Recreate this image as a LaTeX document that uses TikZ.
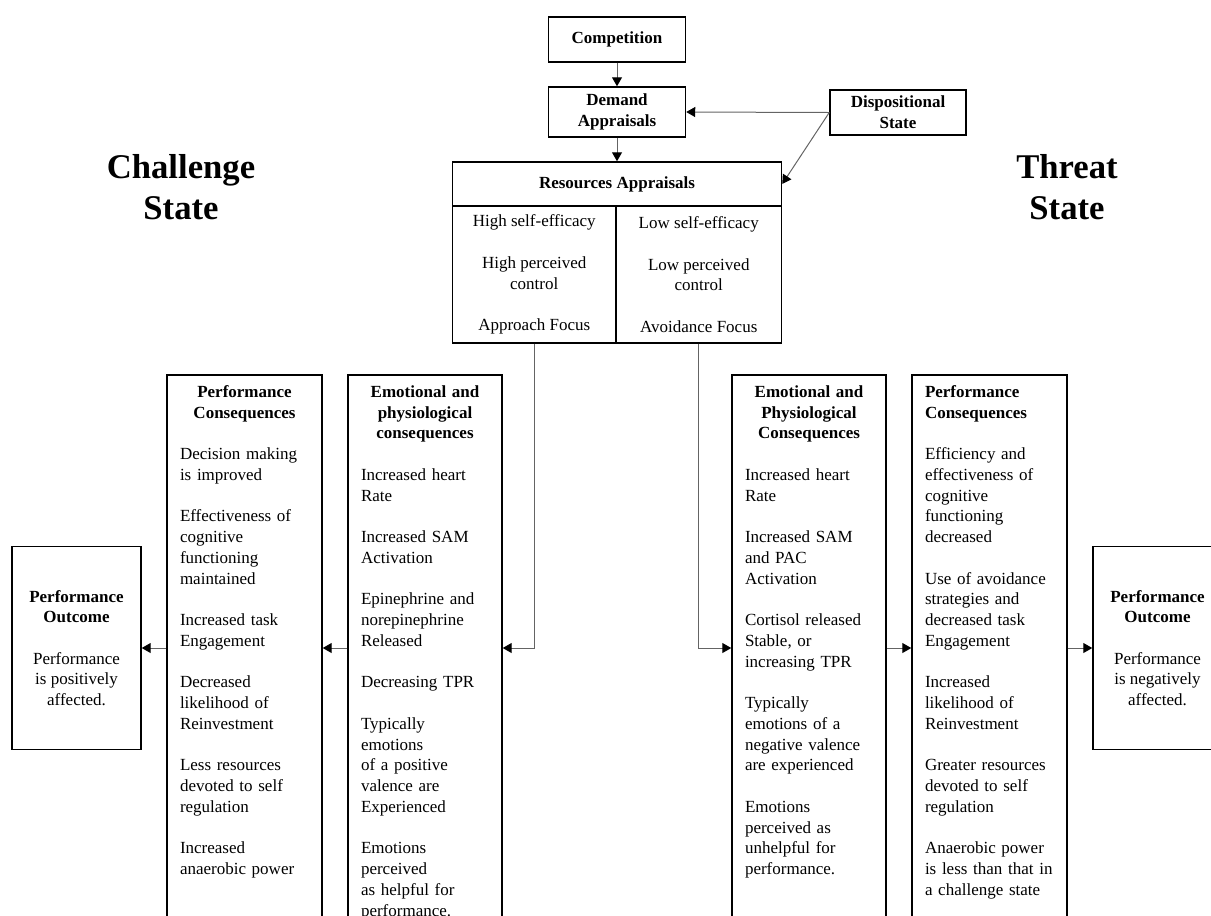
\documentclass[tikz,border=0pt]{standalone}
\usepackage{fontspec}
\setmainfont{Liberation Serif}
\usetikzlibrary{arrows.meta}
\definecolor{boxblack}{RGB}{0,0,0}
\definecolor{linegray}{RGB}{100,100,100}
\newcommand{\bodysize}{\fontsize{12.75}{15.56}\selectfont}
\newcommand{\gapline}{\vspace{\baselineskip}}

\begin{document}
\begin{tikzpicture}[x=0.75pt,y=-0.75pt,
  every node/.style={font=\bodysize},
  box/.style={draw=boxblack,line width=1.1pt,inner sep=0pt},
  coltext/.style={anchor=north,inner xsep=9.75pt,inner ysep=6.25pt,
    execute at begin node=\setlength{\parindent}{0pt}},
  conn/.style={draw=linegray,line width=0.75pt,-{Triangle[length=6.75pt,width=7.5pt,color=black]}},
  title/.style={font=\fontsize{26}{30.75}\selectfont\bfseries,align=center}]
\useasboundingbox (0,0) rectangle (1211,915);
\clip (0,0) rectangle (1211,915);
\node[box,minimum width=102.75pt,minimum height=33.75pt,font=\bodysize\bfseries] (comp) at (617,39.5) {Competition};
\node[box,minimum width=102.75pt,minimum height=37.5pt,align=center,font=\bodysize\bfseries] (dem) at (617,112) {Demand\\Appraisals};
\node[box,minimum width=102pt,minimum height=33.75pt,align=center,font=\bodysize\bfseries] (disp) at (898,112.5) {Dispositional\\State};
\node[box,minimum width=246.75pt,minimum height=33pt,font=\bodysize\bfseries] (reshead) at (617,184) {Resources Appraisals};
\node[box,minimum width=122.6pt,minimum height=102.75pt,align=center] (resleft) at (534.25,274.5) {High self-efficacy\\[\baselineskip]High perceived\\control\\[\baselineskip]Approach Focus};
\node[box,minimum width=124.1pt,minimum height=102.75pt,align=center] (resright) at (698.75,274.5) {Low self-efficacy\\[\baselineskip]Low perceived\\control\\[\baselineskip]Avoidance Focus};
\node[title] (chaltitle) at (181,187) {Challenge\\State};
\node[title] (thrtitle) at (1067,187) {Threat\\State};
\node[box,minimum width=96.75pt,minimum height=152.25pt,align=center] (chalout) at (76.5,648) {\textbf{Performance}\\\textbf{Outcome}\\[\baselineskip]Performance\\is positively\\affected.};
\node[box,minimum width=116.25pt,minimum height=409.5pt] (chalperf) at (244.5,648) {};
\node[coltext,text width=96.75pt] (chalperftext) at (chalperf.north) {{\centering\bfseries\strut Performance\\Consequences\par}\gapline
\raggedright Decision making\\is improved\\[\baselineskip]Effectiveness of\\cognitive\\functioning\\maintained\\[\baselineskip]Increased task\\Engagement\\[\baselineskip]Decreased\\likelihood of\\Reinvestment\\[\baselineskip]Less resources\\devoted to self\\regulation\\[\baselineskip]Increased\\anaerobic power};
\node[box,minimum width=115.5pt,minimum height=409.5pt] (chalemo) at (425,648) {};
\node[coltext,text width=96pt] (chalemotext) at (chalemo.north) {{\centering\bfseries\strut Emotional and\\physiological\\consequences\par}\gapline
\raggedright Increased heart\\Rate\\[\baselineskip]Increased SAM\\Activation\\[\baselineskip]Epinephrine and\\norepinephrine\\Released\\[\baselineskip]Decreasing TPR\\[\baselineskip]Typically\\emotions\\of a positive\\valence are\\Experienced\\[\baselineskip]Emotions\\perceived\\as helpful for\\performance.};
\node[box,minimum width=115.5pt,minimum height=409.5pt] (thremo) at (809,648) {};
\node[coltext,text width=96pt] (thremotext) at (thremo.north) {{\centering\bfseries\strut Emotional and\\Physiological\\Consequences\par}\gapline
\raggedright Increased heart\\Rate\\[\baselineskip]Increased SAM\\and PAC\\Activation\\[\baselineskip]Cortisol released\\Stable, or\\increasing TPR\\[\baselineskip]Typically\\emotions of a\\negative valence\\are experienced\\[\baselineskip]Emotions\\perceived as\\unhelpful for\\performance.};
\node[box,minimum width=116.25pt,minimum height=409.5pt] (thrperf) at (989.5,648) {};
\node[coltext,text width=96.75pt] (thrperftext) at (thrperf.north) {\raggedright{\bfseries\strut Performance\\Consequences\par}\gapline
Efficiency and\\effectiveness of\\cognitive\\functioning\\decreased\\[\baselineskip]Use of avoidance\\strategies and\\decreased task\\Engagement\\[\baselineskip]Increased\\likelihood of\\Reinvestment\\[\baselineskip]Greater resources\\devoted to self\\regulation\\[\baselineskip]Anaerobic power\\is less than that in\\a challenge state};
\node[box,minimum width=96.75pt,minimum height=152.25pt,align=center] (throut) at (1157.5,648) {\textbf{Performance}\\\textbf{Outcome}\\[\baselineskip]Performance\\is negatively\\affected.};
\draw[conn] (comp) -- (dem);
\draw[conn] (dem) -- (reshead);
\draw[conn] (disp.west) -- (dem.east);
\draw[conn] (disp.west) -- (reshead.east);
\draw[conn] (resleft.south) |- (chalemo.east);
\draw[conn] (resright.south) |- (thremo.west);
\draw[conn] (chalemo.west) -- (chalperf.east);
\draw[conn] (chalperf.west) -- (chalout.east);
\draw[conn] (thremo.east) -- (thrperf.west);
\draw[conn] (thrperf.east) -- (throut.west);
\end{tikzpicture}
\end{document}
